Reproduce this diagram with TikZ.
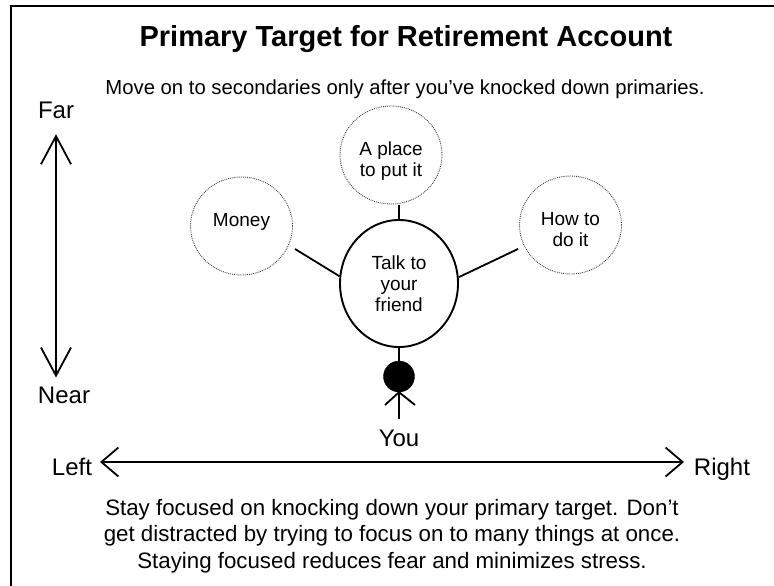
\documentclass[tikz,border=0pt]{standalone}
\usepackage{fontspec}
\setmainfont{Liberation Sans}
\usetikzlibrary{arrows.meta,shapes.geometric}
\tikzset{
  mainball/.style={draw,ellipse,line width=1.9pt,minimum width=118pt,minimum height=127pt,inner sep=0pt,align=center,font=\fontsize{19}{21}\selectfont},
  sideball/.style={draw=black!75,densely dotted,ellipse,line width=0.9pt,minimum width=102pt,minimum height=98pt,inner sep=0pt,align=center,font=\fontsize{19}{21}\selectfont},
  axislabel/.style={anchor=base,inner sep=0pt,outer sep=0pt,font=\fontsize{24}{26}\selectfont},
  bodytext/.style={align=center,inner sep=0pt,font=\fontsize{20.3}{26.5}\selectfont},
  stick/.style={line width=1.8pt},
  farnear/.style={line width=1.8pt,<->,>={Straight Barb[length=28pt,width=30pt]}},
  leftright/.style={line width=1.8pt,<->,>={Straight Barb[length=17pt,width=29pt]}}
}
\begin{document}
\begin{tikzpicture}[x=1pt,y=-1pt]
  \useasboundingbox (0,0) rectangle (774,586);
  % frame
  \draw[line width=2pt] (11,586) -- (11,6) -- (774,6);
  % heading
  \node[inner sep=0pt,anchor=base,font=\bfseries\fontsize{29}{32}\selectfont] (title) at (406,47) {Primary Target for Retirement Account};
  \node[bodytext,anchor=base] (subtitle) at (405,95) {Move on to secondaries only after you’ve knocked down primaries.};
  % targets
  \node[mainball] (talk) at (399,283.5) {Talk to\\your\\friend};
  \node[sideball,text height=13pt,text depth=13pt] (money) at (241.5,226) {Money};
  \node[sideball] (place) at (391,155) {\rule{0pt}{25pt}A place\\to put it};
  \node[sideball] (how) at (570.5,225) {\rule{0pt}{23pt}How to\\do it};
  \coordinate (moneyend) at (295,249);
  \coordinate (howend) at (518,249);
  \draw[stick] (talk.173.7) -- (moneyend);
  \draw[stick] (talk.6.3) -- (howend);
  \draw[stick] (talk.north) -- ++(0,-14);
  % you
  \node[circle,fill=black,draw,inner sep=0pt,minimum size=31pt] (head) at (399,376.5) {};
  \node[axislabel] (you) at (399,446) {You};
  \coordinate (feet) at (399,419);
  \coordinate (armleft) at (385,405);
  \coordinate (armright) at (415,405);
  \draw[stick] (talk.south) -- (head.north);
  \draw[stick] (head.south) -- (feet);
  \draw[stick] (armleft) -- (head.south) -- (armright);
  % axes
  \node[axislabel] (far) at (56,118) {Far};
  \node[axislabel] (near) at (64,403) {Near};
  \node[axislabel] (left) at (72,475) {Left};
  \node[axislabel] (right) at (722,475) {Right};
  \draw[farnear,shorten <=16pt,shorten >=9pt] (far.south) -- (far.south |- near.north);
  \draw[leftright,shorten <=8pt,shorten >=10pt] ([yshift=13pt]left.base east) -- ([yshift=13pt]right.base west);
  % closing text
  \node[bodytext,font=\fontsize{22.3}{26.5}\selectfont] (closing) at (392,536) {Stay focused on knocking down your primary target. Don’t\\get distracted by trying to focus on to many things at once.\\Staying focused reduces fear and minimizes stress.};
\end{tikzpicture}
\end{document}
